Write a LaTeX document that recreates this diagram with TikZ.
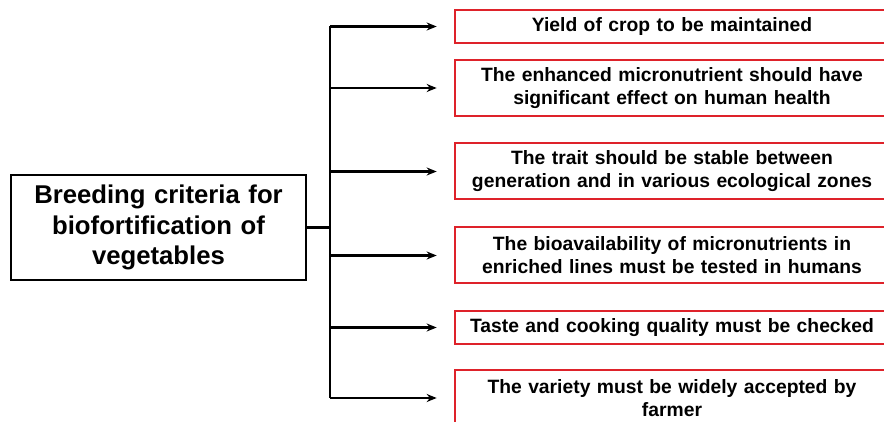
\documentclass[tikz,border=0pt]{standalone}
\usepackage{fontspec}
\setmainfont{Liberation Sans}
\usepackage{xcolor}
\definecolor{critred}{RGB}{222, 34, 42}
\usetikzlibrary{calc,positioning,arrows.meta}

\begin{document}
\begin{tikzpicture}[x=1pt, y=-1pt,
    mainbox/.style={draw, line width=2.2pt, minimum width=293pt, minimum height=105pt,
        text width=288pt, align=center, font=\bfseries\fontsize{25.7}{30.5}\selectfont},
    critbox/.style={draw=critred, line width=2pt, minimum width=434pt, minimum height=33pt,
        text width=428pt, align=center, inner ysep=2pt, font=\bfseries\fontsize{19.3}{23}\selectfont},
    twoline/.style={minimum height=56pt},
    link/.style={line width=2.2pt},
    feed/.style={link, -{Stealth[length=10pt, width=8pt]}, shorten >=17pt}]
    \clip (0, 0) rectangle (884, 422);
    \fill[white] (0, 0) rectangle (884, 422);

    % Main criterion
    \node[mainbox] (main) at (158.5, 227.5) {Breeding criteria for\\ biofortification of\\ vegetables};

    % Criteria boxes
    \node[critbox] (crit1) at (672, 26.5) {Yield of crop to be maintained};
    \node[critbox, twoline] (crit2) at (672, 88) {The enhanced micronutrient should have\\ significant effect on human health};
    \node[critbox, twoline] (crit3) at (672, 171.5) {The trait should be stable between\\ generation and in various ecological zones};
    \node[critbox, twoline] (crit4) at (672, 255.5) {The bioavailability of micronutrients in\\ enriched lines must be tested in humans};
    \node[critbox] (crit5) at (672, 327.5) {Taste and cooking quality must be checked};
    \node[critbox, twoline] (crit6) at (672, 398) {The variety must be widely accepted by\\ farmer};

    % Branching lines
    \coordinate (bus) at (330, 227.5);
    \draw[link] (main.east) -- (bus);
    \draw[link] (bus |- crit1.west) -- (bus |- crit6.west);
    \foreach \i in {1,...,6}
        \draw[feed] (bus |- crit\i.west) -- (crit\i.west);
\end{tikzpicture}
\end{document}
